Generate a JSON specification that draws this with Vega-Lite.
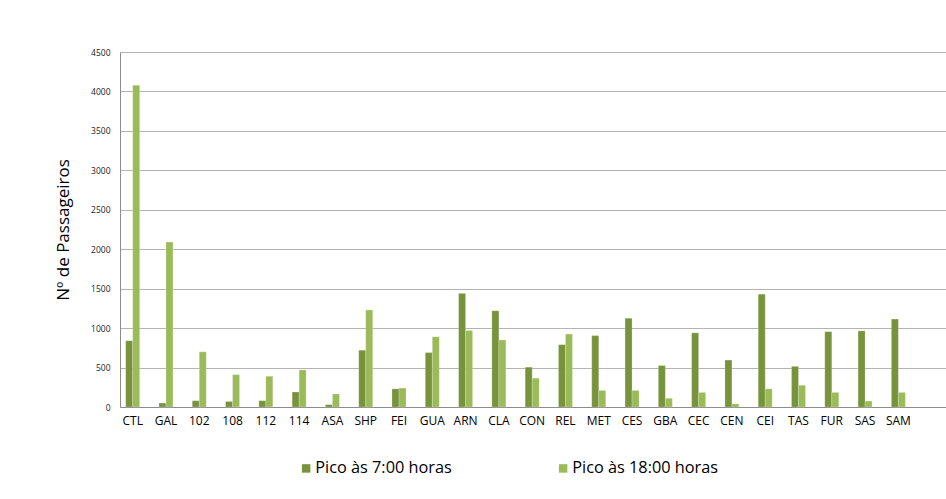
{
  "$schema": "https://vega.github.io/schema/vega-lite/v6.json",
  "width": 826,
  "height": 355,
  "autosize": {"type": "none"},
  "padding": {"left": 120, "top": 52, "right": 0, "bottom": 92},
  "background": "#ffffff",
  "config": {
    "view": {"stroke": null},
    "font": "Open Sans"
  },
  "datasets": {
    "pax": [
      {"ponto": "CTL", "m": 840, "t": 4080},
      {"ponto": "GAL", "m": 50, "t": 2090},
      {"ponto": "102", "m": 80, "t": 700},
      {"ponto": "108", "m": 70, "t": 410},
      {"ponto": "112", "m": 80, "t": 390},
      {"ponto": "114", "m": 190, "t": 470},
      {"ponto": "ASA", "m": 30, "t": 165},
      {"ponto": "SHP", "m": 720, "t": 1230},
      {"ponto": "FEI", "m": 230, "t": 240},
      {"ponto": "GUA", "m": 690, "t": 890},
      {"ponto": "ARN", "m": 1440, "t": 970},
      {"ponto": "CLA", "m": 1220, "t": 850},
      {"ponto": "CON", "m": 505, "t": 365},
      {"ponto": "REL", "m": 790, "t": 925},
      {"ponto": "MET", "m": 905, "t": 210},
      {"ponto": "CES", "m": 1125, "t": 210},
      {"ponto": "GBA", "m": 525, "t": 110},
      {"ponto": "CEC", "m": 940, "t": 185},
      {"ponto": "CEN", "m": 595, "t": 40},
      {"ponto": "CEI", "m": 1430, "t": 230},
      {"ponto": "TAS", "m": 515, "t": 275},
      {"ponto": "FUR", "m": 955, "t": 185},
      {"ponto": "SAS", "m": 965, "t": 75},
      {"ponto": "SAM", "m": 1115, "t": 185}
    ]
  },
  "data": {"name": "pax"},
  "transform": [
    {"fold": ["m", "t"], "as": ["k", "passageiros"]},
    {"lookup": "k", "from": {"data": {"values": [
      {"k": "m", "periodo": "Pico às 7:00 horas"},
      {"k": "t", "periodo": "Pico às 18:00 horas"}
    ]}, "key": "k", "fields": ["periodo"]}}
  ],
  "mark": {"type": "bar", "stroke": "#ffffff", "strokeOpacity": 0.35, "strokeWidth": 0.6},
  "encoding": {
    "x": {
      "field": "ponto",
      "type": "nominal",
      "sort": null,
      "scale": {"paddingInner": 0.58, "paddingOuter": 0.696, "align": 0.123},
      "axis": {
        "title": null,
        "labelAngle": 0,
        "labelFont": "Open Sans",
        "labelFontSize": 12,
        "labelColor": "#000000",
        "labelPadding": 8,
        "labelDx": 4,
        "ticks": false,
        "domainColor": "#8c8c8c",
        "grid": false
      }
    },
    "xOffset": {"field": "periodo", "type": "nominal", "sort": ["Pico às 7:00 horas", "Pico às 18:00 horas"]},
    "y": {
      "field": "passageiros",
      "type": "quantitative",
      "scale": {"domain": [0, 4500], "nice": false},
      "axis": {
        "title": "Nº de Passageiros",
        "titleFont": "Open Sans",
        "titleFontSize": 17,
        "titleFontWeight": "normal",
        "titleColor": "#000000",
        "titlePadding": 18,
        "values": [0, 500, 1000, 1500, 2000, 2500, 3000, 3500, 4000, 4500],
        "format": "d",
        "labelFont": "Open Sans",
        "labelFontSize": 8.5,
        "labelColor": "#222222",
        "labelPadding": 10,
        "ticks": false,
        "domainColor": "#8c8c8c",
        "gridColor": "#b3b3b3",
        "gridWidth": 1
      }
    },
    "color": {
      "field": "periodo",
      "type": "nominal",
      "sort": ["Pico às 7:00 horas", "Pico às 18:00 horas"],
      "scale": {"domain": ["Pico às 7:00 horas", "Pico às 18:00 horas"], "range": ["#77933c", "#9bbb59"]},
      "legend": {
        "title": null,
        "orient": "none",
        "legendX": 178,
        "legendY": 408,
        "direction": "horizontal",
        "columnPadding": 103,
        "symbolType": "square",
        "symbolSize": 72,
        "symbolStrokeWidth": 0,
        "labelFont": "Open Sans",
        "labelFontSize": 16.3,
        "labelColor": "#000000",
        "labelOffset": 1,
        "labelLimit": 300
      }
    }
  }
}
